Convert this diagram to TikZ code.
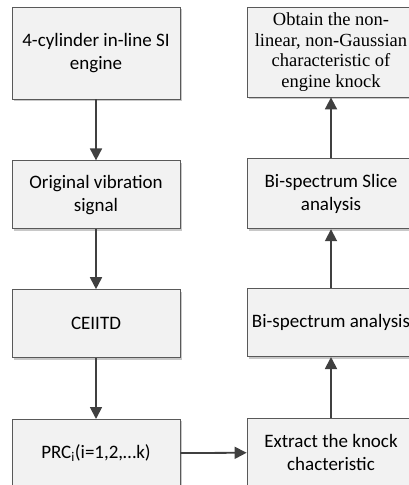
\documentclass[tikz,border=0pt]{standalone}
\usepackage{fontspec}
\setmainfont{Carlito}
\newfontfamily\timesfont{Liberation Serif}
\usepackage{tikz}
\usetikzlibrary{positioning, arrows.meta, shadows}
\usepackage{xcolor}
\definecolor{boxfill}{HTML}{F2F2F2}
\definecolor{boxline}{HTML}{595959}
\definecolor{arrowgray}{HTML}{404040}
\definecolor{shadowgray}{HTML}{C8C8C8}

\begin{document}
\begin{tikzpicture}[
    x=1pt, y=-1pt,
    block/.style={draw=boxline, fill=boxfill, line width=0.8pt, minimum width=168pt, minimum height=68pt,
        align=center, inner sep=1pt, font=\fontsize{19}{23}\selectfont,
        drop shadow={shadow xshift=2pt, shadow yshift=-2pt, fill=shadowgray, opacity=1}},
    arr/.style={-{Triangle[length=12pt, width=12pt]}, line width=1.8pt, arrowgray},
    node distance=60pt
]
\useasboundingbox (0,0) rectangle (409,485);
\clip (0,0) rectangle (409,485);

% Left column
\node[block, minimum height=92pt] (engine) at (96,53) {4-cylinder in-line SI\\engine};
\node[block, below=61pt of engine] (signal) {Original vibration\\signal};
\node[block, below=of signal] (ceiitd) {CEIITD};
\node[block, below=61pt of ceiitd] (prc) {PRC$_{\mathrm{i}}$(i=1,2,\dots k)};

% Right column
\node[block, minimum height=90pt, font=\timesfont\fontsize{18.5}{20.7}\selectfont] (obtain) at (331,52)
    {Obtain the non-\\linear, non-Gaussian\\characteristic of\\engine knock};
\node[block, below=61pt of obtain, minimum height=70pt] (slice) {Bi-spectrum Slice\\analysis};
\node[block, below=59pt of slice] (bispec) {Bi-spectrum analysis};
\node[block, below=61pt of bispec] (extract) {Extract the knock\\chacteristic};

% Arrows
\draw[arr] (engine) -- (signal);
\draw[arr] (signal) -- (ceiitd);
\draw[arr] (ceiitd) -- (prc);
\draw[arr] (prc) -- (extract);
\draw[arr] (extract) -- (bispec);
\draw[arr] (bispec) -- (slice);
\draw[arr] (slice) -- (obtain);

\end{tikzpicture}
\end{document}
